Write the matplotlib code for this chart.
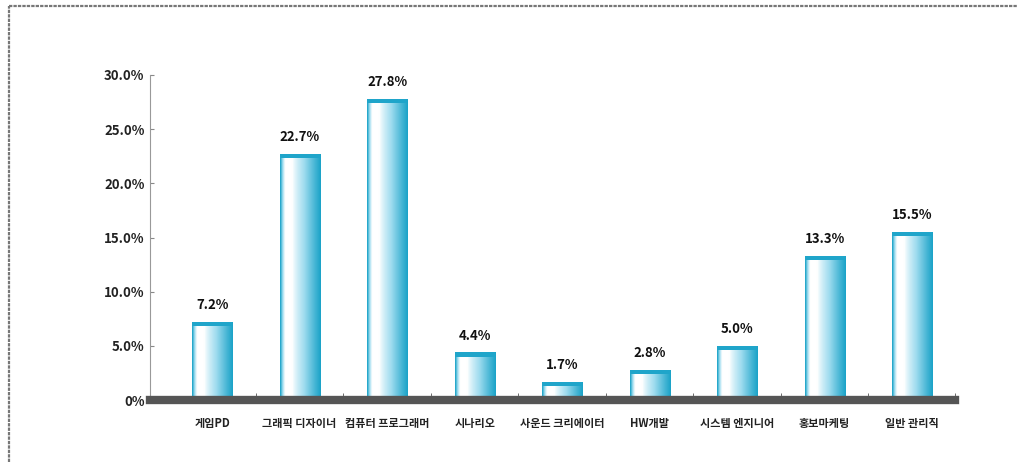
import matplotlib
matplotlib.use("Agg")
import matplotlib.pyplot as plt
import numpy as np
from matplotlib.patches import Rectangle
from matplotlib.lines import Line2D
from matplotlib.colors import LinearSegmentedColormap

plt.rcParams['font.family'] = ['Noto Sans CJK KR', 'DejaVu Sans']

categories = ["게임PD", "그래픽 디자이너", "컴퓨터 프로그래머", "시나리오", "사운드 크리에이터",
              "HW개발", "시스템 엔지니어", "홍보마케팅", "일반 관리직"]
values = [7.2, 22.7, 27.8, 4.4, 1.7, 2.8, 5.0, 13.3, 15.5]
yticks = [0, 5, 10, 15, 20, 25, 30]
ytick_labels = ["0%", "5.0%", "10.0%", "15.0%", "20.0%", "25.0%", "30.0%"]

fig = plt.figure(figsize=(10.17, 4.62), dpi=100)
# partial frame: top and left edges
fig.lines.append(Line2D([9/1017, 9/1017], [0, 1 - 6/462], transform=fig.transFigure,
                        color="#777777", linewidth=1.6, linestyle=(0, (1.5, 0.5))))
fig.lines.append(Line2D([9/1017, 1], [1 - 6/462, 1 - 6/462], transform=fig.transFigure,
                        color="#777777", linewidth=1.6, linestyle=(0, (1.5, 0.5))))

ax = fig.add_axes([150/1017, 62/462, 805/1017, 325/462])

x = np.arange(len(categories))
bars = ax.bar(x, values, width=0.46, color="#2aa9cc", edgecolor="none", zorder=2)

# cylinder gradient: cyan edge, white highlight, cyan toward right
g = np.linspace(0, 1, 64)
prof = np.where(g < 0.12, 1 - g / 0.12, np.clip((g - 0.3) / 0.7, 0, 1) ** 0.8)
cmap = LinearSegmentedColormap.from_list("cyl", ["#ffffff", "#9fdcef", "#1ba3c8"])
for b in bars:
    x0, w, h = b.get_x(), b.get_width(), b.get_height()
    im = ax.imshow(prof[None, :], cmap=cmap, aspect="auto", extent=(x0, x0 + w, 0, h),
                   zorder=3, vmin=0, vmax=1)
    im.set_clip_path(b)
    ax.add_patch(Rectangle((x0, h - 0.4), w, 0.4, color="#1fa5ca", zorder=4, linewidth=0))

for xi, v in zip(x, values):
    ax.text(xi, v + 0.9, f"{v}%", ha="center", va="bottom", fontsize=9.5,
            fontweight="bold", color="#111111")

ax.set_xlim(-0.71, len(categories) - 0.51)
ax.set_ylim(0, 30)
ax.set_yticks(yticks)
ax.set_yticklabels(ytick_labels, fontsize=9.5, fontweight="bold", color="#222222")
ax.set_xticks(x)
ax.set_xticklabels(categories, fontsize=8, fontweight="bold", color="#222222")
ax.tick_params(axis="x", length=0, pad=12)
ax.tick_params(axis="y", direction="in", length=3, pad=4, color="#888888")
ax.set_xticks(np.append(x[:-1] + 0.5, len(categories) - 0.51), minor=True)
ax.tick_params(axis="x", which="minor", direction="in", length=5, color="#555555")

for s in ["top", "right", "bottom"]:
    ax.spines[s].set_visible(False)
ax.spines["left"].set_color("#999999")
ax.spines["left"].set_linestyle((0, (2, 1)))
ax.axhline(0, color="#555555", linewidth=6, zorder=5, clip_on=False)

fig.savefig("out.png", dpi=100)
